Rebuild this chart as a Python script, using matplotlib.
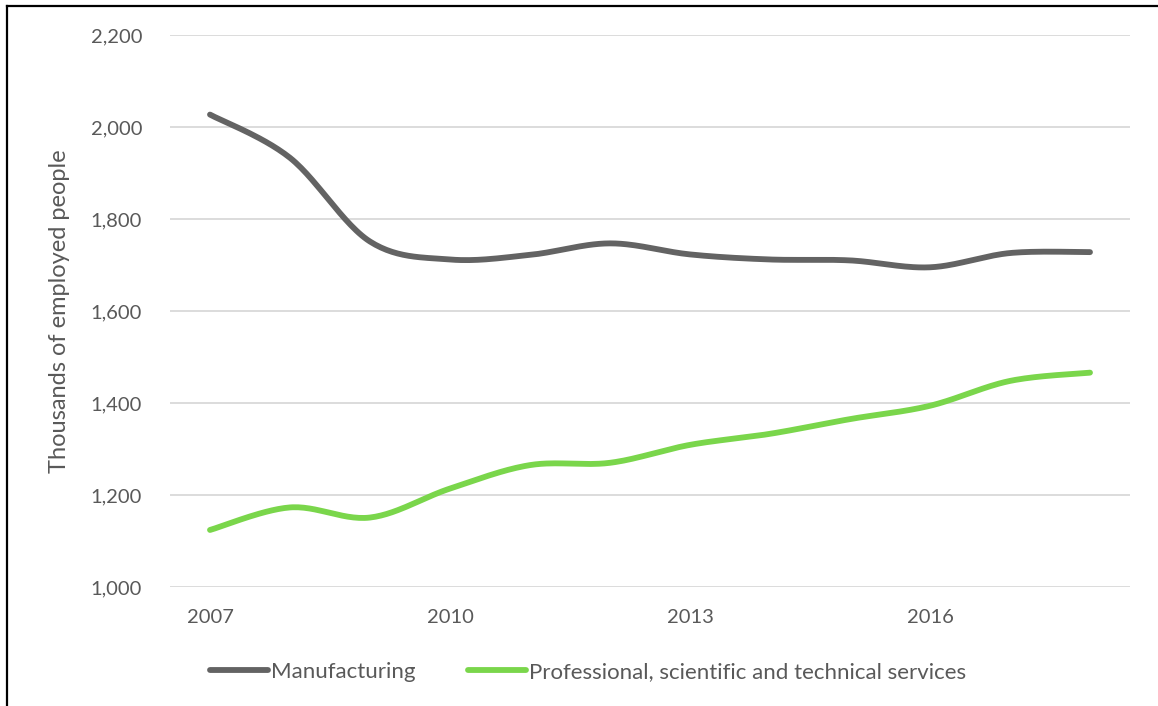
#!/usr/bin/env python3

import numpy as np
import matplotlib
matplotlib.use("Agg")
import matplotlib.pyplot as plt
from matplotlib.lines import Line2D

years = [2007, 2008, 2009, 2010, 2011, 2012, 2013, 2014, 2015, 2016, 2017, 2018]
manufacturing = [2027, 1933, 1751, 1712, 1722, 1747, 1723, 1712, 1710, 1695, 1726, 1728]
professional = [1124, 1173, 1151, 1214, 1265, 1270, 1309, 1333, 1365, 1394, 1448, 1466]
series_names = ["Manufacturing", "Professional, scientific and technical services"]
series_colors = ["#636363", "#7ad64b"]
yticks = [1000, 1200, 1400, 1600, 1800, 2000, 2200]
xtick_years = [2007, 2010, 2013, 2016]

plt.rcParams['font.family'] = ['Lato', 'DejaVu Sans']


def smooth(x, y, steps=30):
    # excel-like smoothed line: bezier segments with catmull-rom control points
    x = np.asarray(x, float)
    y = np.asarray(y, float)
    n = len(x)
    xs, ys = [], []
    for i in range(n - 1):
        p0 = np.array([x[max(i - 1, 0)], y[max(i - 1, 0)]])
        p1 = np.array([x[i], y[i]])
        p2 = np.array([x[i + 1], y[i + 1]])
        p3 = np.array([x[min(i + 2, n - 1)], y[min(i + 2, n - 1)]])
        c1 = p1 + (p2 - p0) / 6.0
        c2 = p2 - (p3 - p1) / 6.0
        t = np.linspace(0, 1, steps)[:, None]
        pts = ((1 - t) ** 3) * p1 + 3 * ((1 - t) ** 2) * t * c1 + 3 * (1 - t) * t ** 2 * c2 + t ** 3 * p2
        xs.extend(pts[:, 0])
        ys.extend(pts[:, 1])
    return np.array(xs), np.array(ys)


fig = plt.figure(figsize=(11.58, 7.06), dpi=100)
ax = fig.add_axes([170 / 1158, 1 - 587 / 706, 960 / 1158, 552 / 706])

for vals, name, col in zip([manufacturing, professional], series_names, series_colors):
    sx, sy = smooth(years, vals)
    ax.plot(sx, sy, color=col, lw=4.2, solid_capstyle='round', label=name)

ax.set_xlim(2006.5, 2018.5)
ax.set_ylim(1000, 2200)
ax.set_yticks(yticks)
ax.set_yticklabels([f"{v:,}" for v in yticks])
ax.set_xticks(xtick_years)
ax.set_xticklabels([str(v) for v in xtick_years])
ax.grid(axis='y', color='#d9d9d9', lw=1.3)
ax.set_axisbelow(True)
for s in ax.spines.values():
    s.set_visible(False)
ax.tick_params(axis='both', length=0, labelsize=14.5, labelcolor='#595959')
ax.tick_params(axis='y', pad=20)
ax.tick_params(axis='x', pad=16)

ax.set_ylabel("Thousands of employed people", fontsize=17, color='#595959')
ax.yaxis.set_label_coords(-(170 - 70) / 960, 0.5)

handles = [Line2D([0], [0], color=c, lw=4.2, solid_capstyle='round') for c in series_colors]
fig.legend(handles, series_names, loc='center', bbox_to_anchor=(588 / 1158, 1 - 672 / 706),
           ncol=2, frameon=False, fontsize=16, labelcolor='#595959',
           handlelength=2.6, handletextpad=0.12, columnspacing=2.4)

# frame on top and left edge
fig.add_artist(Line2D([7.5 / 1158, 1], [1 - 5.5 / 706, 1 - 5.5 / 706], color='black', lw=1.6))
fig.add_artist(Line2D([7.5 / 1158, 7.5 / 1158], [0, 1 - 5.5 / 706], color='black', lw=1.6))

fig.savefig("out.png", dpi=100)
